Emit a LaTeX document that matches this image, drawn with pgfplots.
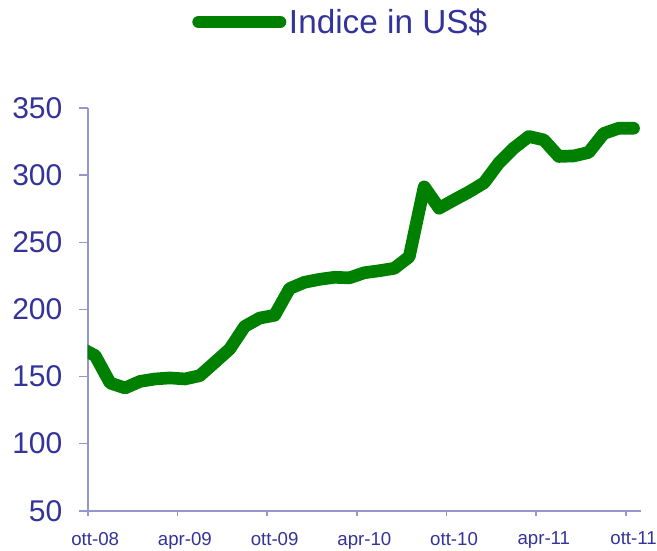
\documentclass[border=0pt]{standalone}
\usepackage{pgfplots}
\pgfplotsset{compat=1.18}
\usepackage{fontspec}
\setmainfont{Liberation Sans}
\definecolor{txtblue}{RGB}{51,51,153}
\definecolor{axblue}{RGB}{150,150,205}
\definecolor{linegreen}{RGB}{0,128,0}
\begin{document}
\begin{tikzpicture}
\useasboundingbox (0,0) rectangle (492.75pt,412.5pt);
\begin{axis}[
  at={(65.775pt,29.475pt)}, anchor=south west,
  scale only axis, width=415pt, height=301.8pt,
  xmin=0, xmax=37, ymin=50, ymax=350,
  axis x line=bottom, axis y line=left,
  axis line style={draw=axblue, line width=1.3pt, -},
  tick style={draw=axblue, line width=1.3pt},
  tick align=outside,
  xtick={0,6,12,18,24,30,36},
  xticklabels={ott-08,apr-09,ott-09,apr-10,ott-10,apr-11,ott-11},
  major tick length=6.5pt,
  x tick style={/pgfplots/major tick length=4pt},
  ytick={50,100,150,200,250,300,350},
  /pgf/number format/assume math mode=true,
  yticklabel style={font=\fontsize{22.5}{27}\selectfont, text=txtblue, xshift=-9pt},
  xticklabel style={font=\fontsize{14}{17}\selectfont, text=txtblue, xshift=5.6pt, yshift=-6pt},
  legend style={draw=none, fill=none, at={(axis description cs:0.458,1.2145)}, anchor=center,
    font=\fontsize{25}{29}\selectfont, text=txtblue},
  legend image code/.code={\draw[#1, line cap=round] (0pt,0pt) -- (61pt,0pt);},
]
\addplot[color=linegreen, line width=9.5pt, line join=round, line cap=round] coordinates {
(-0.5,171.5) (0.5,165.6) (1.5,145.2) (2.5,141.5) (3.5,146.4) (4.5,148.2)
(5.5,149.0) (6.5,148.2) (7.5,150.7) (8.5,160.6) (9.5,170.6) (10.5,187.4)
(11.5,193.6) (12.5,195.7) (13.5,215.6) (14.5,220.3) (15.5,222.5) (16.5,224.0)
(17.5,223.6) (18.5,227.4) (19.5,228.9) (20.5,230.7) (21.5,239.3) (22.5,291.5)
(23.5,275.5) (24.5,281.7) (25.5,287.7) (26.5,294.4) (27.5,309.3) (28.5,320.4)
(29.5,329.0) (30.5,326.4) (31.5,314.1) (32.5,314.5) (33.5,317.1) (34.5,331.2)
(35.5,335.1) (36.5,335.1)
};
\addlegendentry{Indice in US\$}
\end{axis}
\end{tikzpicture}
\end{document}
